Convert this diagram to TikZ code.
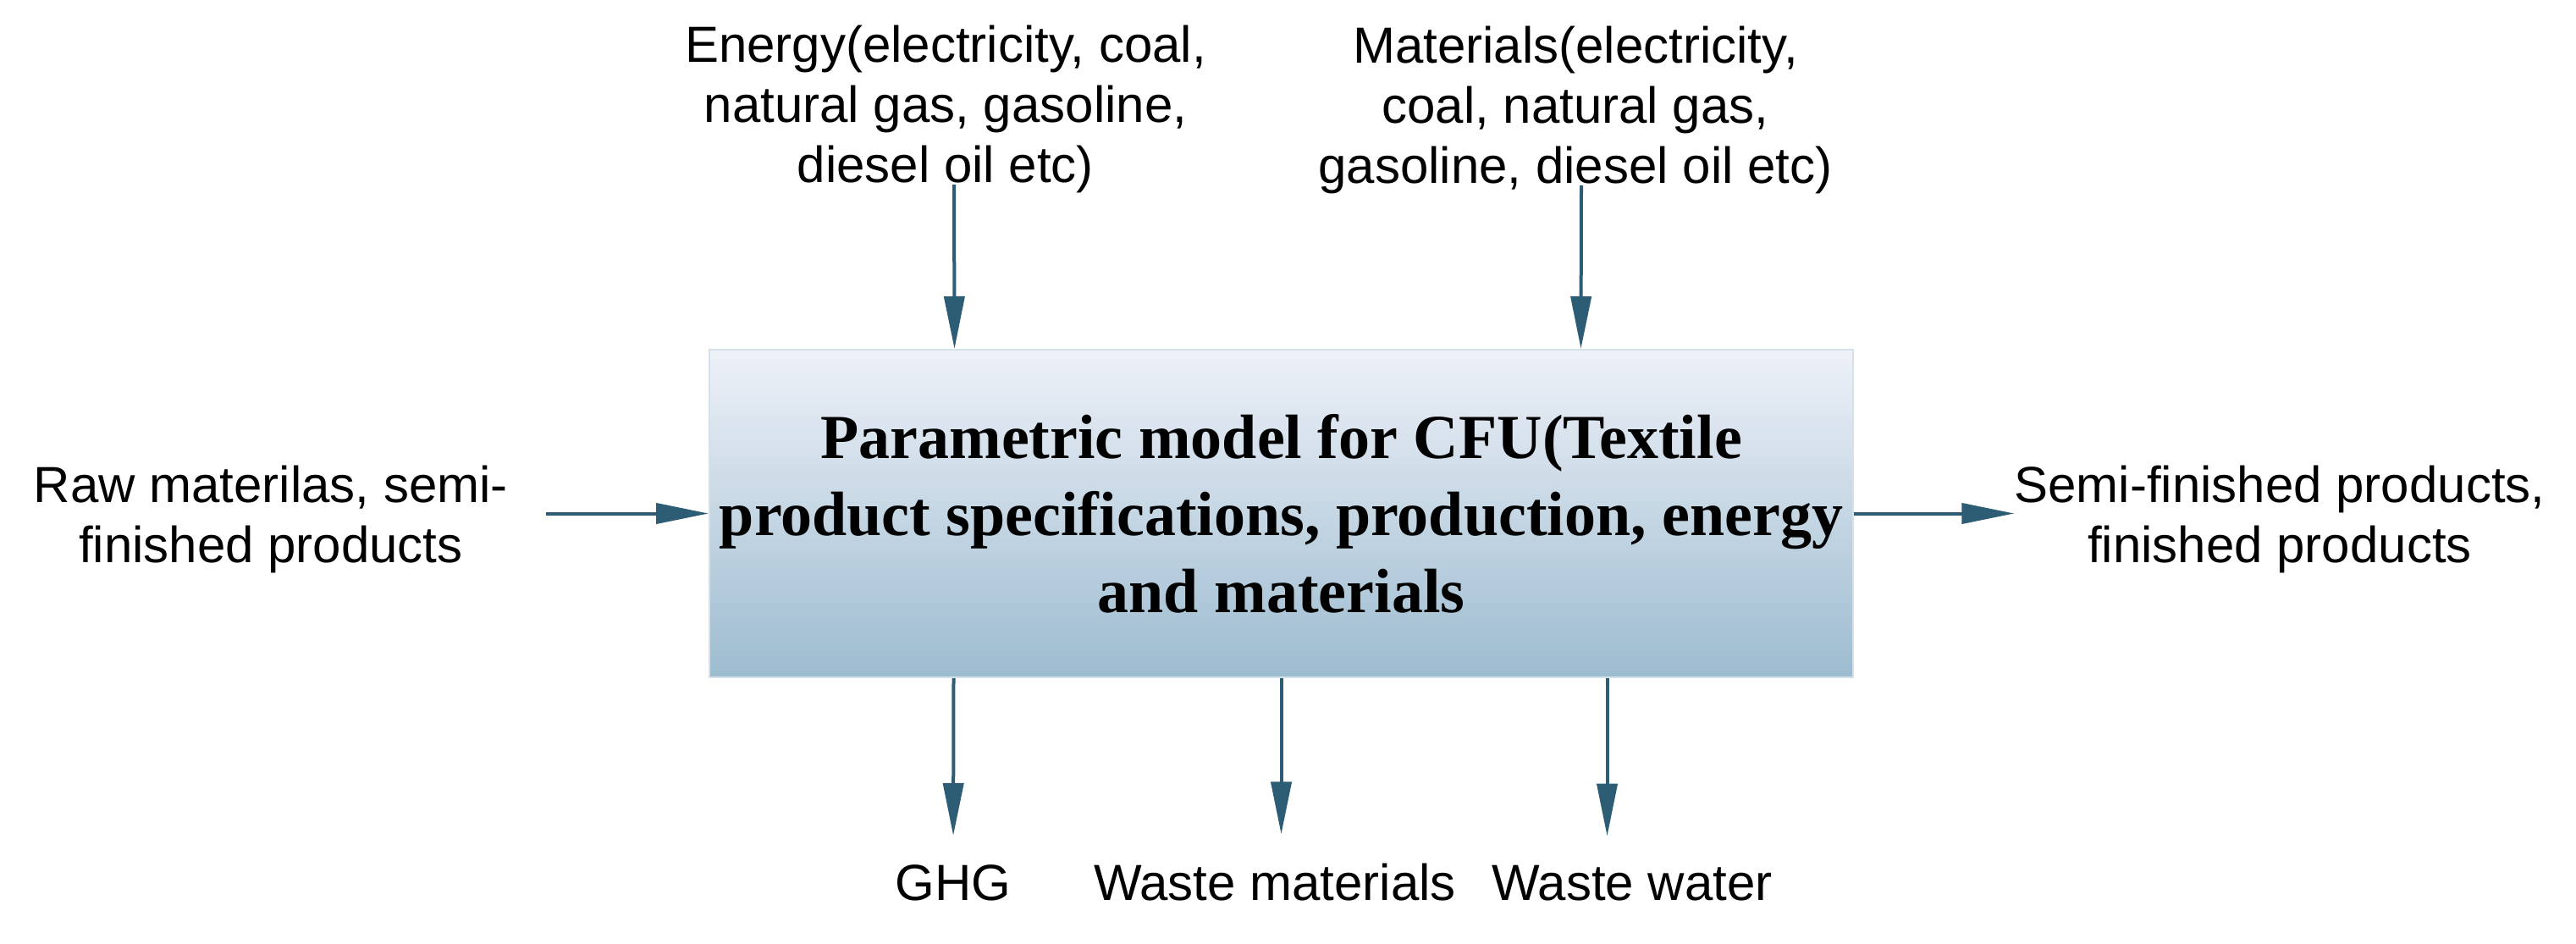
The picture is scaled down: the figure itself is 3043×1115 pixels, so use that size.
\documentclass[tikz,border=0pt]{standalone}
\usepackage{fontspec}
\setmainfont{Liberation Serif}
\newfontfamily\lblfont{Liberation Sans}
\usetikzlibrary{arrows.meta}
\definecolor{arrcol}{RGB}{44,93,117}
\definecolor{boxtop}{RGB}{238,241,248}
\definecolor{boxbot}{RGB}{157,188,208}
\definecolor{boxedge}{RGB}{212,224,234}
\begin{document}
\begin{tikzpicture}[x=1pt,y=-1pt,
  lbl/.style={font=\lblfont\fontsize{60}{71}\selectfont, align=center, inner sep=0pt, text=black},
  conn/.style={draw=arrcol, line width=4pt, -{Triangle[length=62pt,width=24pt]}},
  mainbox/.style={draw=boxedge, line width=2pt, top color=boxtop, bottom color=boxbot,
    minimum width=1351pt, minimum height=387pt, inner sep=0pt, align=center,
    font=\bfseries\fontsize{74}{91}\selectfont}]
\useasboundingbox (0,0) rectangle (3043,1115);
\fill[white] (0,0) rectangle (3043,1115);

\node[mainbox] (box) at (1513.5,606.5)
  {Parametric model for CFU(Textile\\product specifications, production, energy\\and materials};

\node[lbl] (ener) at (1117,129) {Energy(electricity, coal,\\natural gas, gasoline,\\diesel oil etc)};
\node[lbl] (mat) at (1861,130) {Materials(electricity,\\coal, natural gas,\\gasoline, diesel oil etc)};
\node[lbl] (raw) at (320,613) {Raw materilas, semi-\\finished products};
\node[lbl] (prod) at (2693,613) {Semi-finished products,\\finished products};
\node[lbl, anchor=base] (ghg) at (1126,1063) {GHG};
\node[lbl, anchor=base] (wmat) at (1506,1063) {Waste materials};
\node[lbl, anchor=base] (wwat) at (1928,1063) {Waste water};

\draw[conn] ([xshift=10pt,yshift=10pt]ener.south) -- ([xshift=-386pt]box.north);
\draw[conn] ([xshift=7pt,yshift=10pt]mat.south) -- ([xshift=354pt]box.north);
\draw[conn] ([xshift=45pt]raw.east |- box.west) -- (box.west);
\draw[conn] (box.east) -- (box.east -| prod.west);
\draw[conn, shorten >=34pt] ([xshift=-387pt]box.south) -- (ghg.north);
\draw[conn, shorten >=34pt] (box.south) -- (box.south |- wmat.north);
\draw[conn, shorten >=34pt] ([xshift=385pt]box.south) -- ([xshift=385pt]box.south |- wwat.north);
\end{tikzpicture}
\end{document}
